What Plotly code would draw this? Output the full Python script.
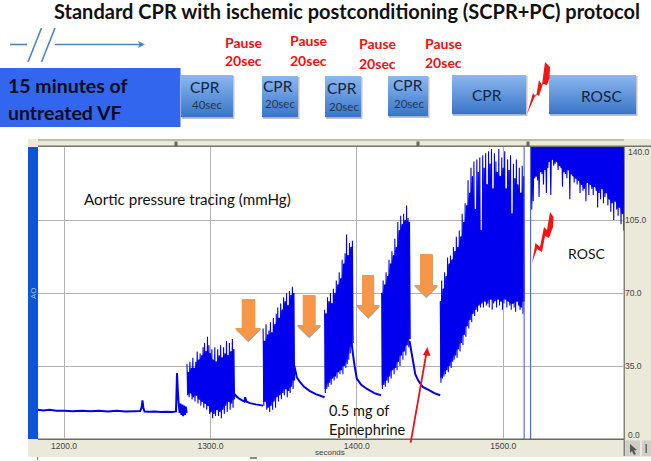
import plotly.graph_objects as go

# ---------- data ----------
x_ticks = [1200, 1300, 1400, 1500]
x_tick_labels = ["1200.0", "1300.0", "1400.0", "1500.0"]
y_ticks = [35, 70, 105]
y_tick_labels = ["35.0", "70.0", "105.0"]
y_edge_labels = [(140, "140.0", 5), (0, "0.0", -4)]

base_t = [1182, 1186, 1190, 1195, 1200, 1206, 1212, 1218, 1224, 1230, 1236, 1242, 1248, 1252, 1253, 1253.6, 1254.2, 1255,
          1258, 1262, 1266, 1270, 1274, 1276.5, 1277.2, 1277.7, 1278.3, 1279, 1279.6, 1280.2, 1280.8, 1281.4, 1282, 1282.6, 1283.2, 1283.8]
base_v = [14, 13.7, 14, 13.5, 13.6, 13.3, 13.5, 13.3, 13.6, 13.2, 13.5, 13.2, 13.3, 13.4, 15, 18.5, 15, 13.2,
          13.1, 13.2, 12.9, 13.1, 13, 13.2, 31.6, 24, 17, 12.5, 17, 11.5, 16.5, 11, 16, 11.5, 15.5, 12.5]

burst1_start = 1284
burst1_hi = [36,32,37,34,39,34,37,42,38,41,40,44,46,42,49,45,41,43,38,44,37,43,40,45,39,44,41,47,40,46,42,48,43]
burst1_lo = [21,20,22,19,20,18,21,17,19,16,18,15,17,14,16,12,13,10,12,11,14,11,13,10,14,12,16,13,18,14,17,15,19]
decay1_t = [1316, 1318, 1320, 1322, 1323.2, 1323.8, 1324.5, 1327, 1331, 1336]
decay1_v = [22, 20.3, 19.2, 18.4, 18, 20, 18, 17.2, 16.6, 16]

burst2_start = 1336
burst2_hi = [53,47,55,50,52,56,51,58,55,60,63,58,65,62,68,66,70,64,71,69,73,70]
burst2_lo = [16,18,14,15,13,16,14,18,15,20,18,21,19,22,21,24,20,23,22,25,24,28]
decay2_t = [1357, 1358, 1359, 1361, 1364, 1368, 1372, 1378]
decay2_v = [36, 33, 29.5, 27.5, 25, 23, 21.5, 20]

burst3_start = 1378
burst3_hi = [62,60,68,66,70,65,72,70,76,74,80,77,86,84,89,98,88,94,92,95]
burst3_lo = [22,24,25,27,26,29,28,30,29,32,31,33,31,35,34,36,38,41,44,46]
decay3_t = [1396.5, 1397.5, 1398.5, 1400, 1403, 1407, 1412, 1416.5]
decay3_v = [46, 40, 35, 29, 26, 24, 22, 21]

burst4_start = 1417
burst4_hi = [70,76,74,80,78,86,84,90,88,96,92,104,100,107,103,108,105,112,106,104]
burst4_lo = [24,26,25,28,27,30,29,33,31,34,33,37,35,40,38,42,40,45,44,48]
decay4_t = [1436, 1437.5, 1438.5, 1440, 1442, 1445, 1449, 1453, 1457]
decay4_v = [47, 41, 37, 31, 28, 25, 23.5, 22, 21]

burst5_start = 1457
burst5_hi = [66,76,72,80,78,87,84,88,86,92,
             90,97,92,100,97,108,104,113,112,124,
             118,130,126,133,110,134,128,135,100,136,
             130,137,122,138,132,139,120,137,133,128,
             139,126,135,130,138,120,134,129,136,108,
             132,125,134,122,130,118,131,126]
burst5_lo = [27,29,30,31,33,32,35,34,37,38,
             40,39,43,42,46,45,50,49,54,53,
             57,56,60,59,62,61,64,63,65,63,
             66,64,65,63,67,62,65,66,63,67,
             64,66,62,65,67,63,66,64,62,65,
             63,61,66,64,62,63,60,66]

burst6_start = 1519
burst6_lo = [110,114,125,126,124,116,128,127,122,129,
             118,130,133,117,134,131,132,133,129,131,
             130,121,128,127,125,129,115,127,126,123,
             125,122,124,118,122,119,120,114,123,117,
             122,120,117,121,119,111,118,115,120,113,
             116,118,112,115,109,113,105,114,110,107,
             111,103,108,100]
burst6_hi = [140] * len(burst6_lo)   # trace saturates at the top of the scale

marker_lines = [1514.3, 1518.7]

# ---------- helpers ----------
W, H = 651, 461
def fx(p): return p / W
def fy(p): return 1 - p / H
PLOT_L, PLOT_R, PLOT_T, PLOT_B = 38, 624, 147, 439
XPX = 1.464  # px per second
x_range = [1200 + (PLOT_L - 64) / XPX, 1200 + (PLOT_R - 64) / XPX]

def zigzag(start, hi, lo):
    xs, ys = [], []
    for i, (a, b) in enumerate(zip(hi, lo)):
        xs += [start + i, start + i + 0.5]
        ys += [a, b]
    return xs, ys

def core(start, hi, lo):
    """Solid body of a burst: the band every neighbouring compression covers."""
    n = len(hi)
    up, down, ts = [], [], []
    for i in range(n):
        a, b = max(i - 1, 0), min(i + 2, n)
        ts.append(start + i)
        up.append(min(hi[a:b]))
        down.append(max(lo[a:b]))
    return ts + ts[::-1], up + down[::-1]

shapes = []
def rect(x0, y0, x1, y1, color, layer="above"):
    shapes.append(dict(type="rect", xref="paper", yref="paper", x0=fx(x0), x1=fx(x1), y0=fy(y0), y1=fy(y1),
                       fillcolor=color, line=dict(width=0), layer=layer))
def poly(points, color, layer="above"):
    d = "M" + " L".join(f"{fx(a):.5f},{fy(b):.5f}" for a, b in points) + " Z"
    shapes.append(dict(type="path", xref="paper", yref="paper", path=d, fillcolor=color, line=dict(width=0), layer=layer))
def seg(x0, y0, x1, y1, color, width):
    shapes.append(dict(type="line", xref="paper", yref="paper", x0=fx(x0), x1=fx(x1), y0=fy(y0), y1=fy(y1),
                       line=dict(color=color, width=width)))

def lerp(c0, c1, t):
    return "rgb(%d,%d,%d)" % tuple(round(a + (b - a) * t) for a, b in zip(c0, c1))
def grad_box(x0, y0, x1, y1):
    rect(x0 + 1, y0 + 1, x1 + 1.5, y1 + 2, "#c4c4c4")
    n = int(y1 - y0)
    for i in range(n):
        rect(x0, y0 + i, x1, y0 + i + 1.2, lerp((139, 183, 240), (58, 118, 200), i / max(n - 1, 1)))

annots = []
def text(x, y, s, size, color="#000", bold=False, family="Lato", anchor="center", angle=0):
    annots.append(dict(xref="paper", yref="paper", x=fx(x), y=fy(y), text=f"<b>{s}</b>" if bold else s,
                       showarrow=False, xanchor=anchor, yanchor="middle", textangle=angle,
                       font=dict(size=size, color=color, family=family)))

# ---------- window chrome ----------
BEIGE = "#ebe9d9"
rect(28, 139, 651, 147, BEIGE, "below")
rect(38, 139.5, 624, 140.5, "#8f8d7e", "below")
rect(38, 145.5, 651, 147, "#77756a", "below")
rect(28, 439, 651, 457, BEIGE, "below")
rect(624, 147, 651, 439, BEIGE, "below")
rect(28, 147, 38, 439, "#0a55d8", "below")
rect(38, 438.6, 624, 440, "#6a6a62", "below")
rect(623.6, 147, 624.8, 456, "#6a6a62", "below")
for mx in [176, 418, 528]:
    rect(mx - 1.5, 141.5, mx + 1.5, 146, "#66645c", "below")
rect(250, 457, 257, 459, "#8a8a80", "below")
rect(37, 457, 38.2, 460, "#8a8a80", "below")
# cursor buttons
rect(625, 440.5, 640, 456, "#cfcfc8")
rect(642, 440.5, 651, 456, "#cfcfc8")
poly([(630, 444), (630, 453), (632, 451), (634, 455), (636, 454), (634, 450.5), (637, 450)], "#555")
rect(645.5, 444, 646.8, 453, "#555")

# ---------- protocol diagram ----------
rect(0, 68, 180.5, 127, "#3366ee")
for b in [(181, 75, 233, 117), (262, 76, 298, 117), (325, 76, 361, 117), (388, 76, 428, 116),
          (452, 75, 526, 114), (549, 75, 636, 114)]:
    grad_box(*b)
ARROW = "#4f81bd"
seg(10, 44.5, 27, 44.5, ARROW, 1.6)
seg(55, 44.5, 141, 44.5, ARROW, 1.6)
poly([(145, 44.5), (138, 41), (139.5, 44.5), (138, 48)], ARROW)
seg(28, 62, 41.5, 28, ARROW, 1.6)
seg(41.5, 62, 55, 28, ARROW, 1.6)
poly([(527, 114), (533, 93), (536, 97), (539, 80), (542, 85), (545, 62), (550, 67), (549.5, 78), (547, 85),
      (543, 84), (539, 96), (536, 94)], "#f01414")

# ---------- overlays on the tracing ----------
def down_arrow(sl, sr, top, hy, hl, hr, tip):
    cx = (hl + hr) / 2
    pts = [(sl, top), (sr, top), (sr, hy), (hr, hy), (cx, tip), (hl, hy), (sl, hy)]
    poly([(a + 0.3, b + 1.2) for a, b in pts], "#a9a29a")
    poly(pts, "#f79646")
down_arrow(241.7, 255, 299, 328, 235, 261, 341)
down_arrow(302.7, 315.3, 295, 325, 296.7, 321, 337)
down_arrow(362, 374, 275, 305, 356, 380, 317.7)
down_arrow(420, 432.7, 254, 285, 414, 438, 297)
poly([(532, 263), (535.5, 243), (540, 247), (544, 227), (547, 230), (550, 212), (553.5, 217), (553, 227), (549, 238),
      (545, 236), (542, 252), (537, 249)], "#f01414")
seg(410.7, 442.7, 426.4, 353, "#e8141c", 1.8)
poly([(427.3, 347), (423, 355), (430.5, 356)], "#e8141c")

# ---------- text ----------
text(346.5, 11, "Standard CPR with ischemic postconditioning (SCPR+PC) protocol", 20, "#111", True)
text(6, 85, "15 minutes of", 19.5, "#0c0c20", True, anchor="left")
text(6, 112, "untreated VF", 19.5, "#0c0c20", True, anchor="left")
for px_, y1, y2 in [(243.5, 42, 61), (308.5, 41, 60), (377.5, 44, 63), (443.5, 43, 62)]:
    text(px_, y1, "Pause", 14, "#ee1111", True)
    text(px_, y2, "20sec", 14, "#ee1111", True)
for px_, py_ in [(205, 87), (278, 86), (342, 88), (407.5, 85), (487, 95)]:
    text(px_, py_, "CPR", 15.5, "#14253f")
for px_, py_, s in [(206.6, 104, "40sec"), (280, 103.3, "20sec"), (343.6, 106, "20sec"), (409, 103, "20sec")]:
    text(px_, py_, s, 11.5, "#24364f")
text(601, 96, "ROSC", 15.5, "#14253f")
text(82, 199, "Aortic pressure tracing (mmHg)", 15.2, "#111", anchor="left")
text(566, 253, "ROSC", 14, "#111", anchor="left")
text(327, 410, "0.5 mg of", 14.5, "#111", anchor="left")
text(327, 429, "Epinephrine", 14.5, "#111", anchor="left")
text(330, 452, "seconds", 8, "#444", family="Liberation Sans")
text(33, 293, "AO", 8, "#9fc0ea", family="Liberation Sans", angle=-90)
for val, label, shift in y_edge_labels:
    annots.append(dict(xref="paper", yref="y", x=fx(626), y=val, yshift=-shift, text=label, showarrow=False,
                       xanchor="left", yanchor="middle", font=dict(size=8.5, color="#444", family="Liberation Sans")))

# ---------- traces ----------
BLUE = "#0000ee"
fig = go.Figure()
for gx, gy in [(base_t, base_v), (decay1_t, decay1_v), (decay2_t, decay2_v), (decay3_t, decay3_v), (decay4_t, decay4_v)]:
    fig.add_trace(go.Scatter(x=gx, y=gy, mode="lines", line=dict(color=BLUE, width=2, simplify=False), hoverinfo="skip"))
for start, hi, lo in [(burst1_start, burst1_hi, burst1_lo), (burst2_start, burst2_hi, burst2_lo),
                      (burst3_start, burst3_hi, burst3_lo), (burst4_start, burst4_hi, burst4_lo),
                      (burst5_start, burst5_hi, burst5_lo), (burst6_start, burst6_hi, burst6_lo)]:
    cx, cy = core(start, hi, lo)
    fig.add_trace(go.Scatter(x=cx, y=cy, mode="lines", fill="toself", fillcolor=BLUE,
                             line=dict(color=BLUE, width=0.5, simplify=False), hoverinfo="skip"))
    zx, zy = zigzag(start, hi, lo)
    fig.add_trace(go.Scatter(x=zx, y=zy, mode="lines", line=dict(color=BLUE, width=1.1, simplify=False), hoverinfo="skip"))
for m in marker_lines:
    fig.add_trace(go.Scatter(x=[m, m], y=[0, 140], mode="lines", line=dict(color="#5060d8", width=1.1), hoverinfo="skip"))

fig.update_layout(
    width=W, height=H, margin=dict(l=0, r=0, t=0, b=0), showlegend=False, template="none",
    paper_bgcolor="white", plot_bgcolor="white", shapes=shapes, annotations=annots,
    xaxis=dict(domain=[fx(PLOT_L), fx(PLOT_R)], range=x_range, tickvals=x_ticks, ticktext=x_tick_labels,
               showgrid=True, gridcolor="#b2b2b2", gridwidth=1.2, zeroline=False, showline=False, ticks="",
               tickfont=dict(size=8.5, color="#444", family="Liberation Sans"), anchor="y"),
    yaxis=dict(domain=[fy(PLOT_B), fy(PLOT_T)], range=[0, 140], tickvals=y_ticks, ticktext=y_tick_labels, side="right",
               showgrid=True, gridcolor="#b2b2b2", gridwidth=1.2, zeroline=False, showline=False, ticks="",
               tickfont=dict(size=8.5, color="#444", family="Liberation Sans"), anchor="x"),
)
fig.write_html("out.html", config=dict(displayModeBar=False), post_script="document.body.style.margin='0';")
